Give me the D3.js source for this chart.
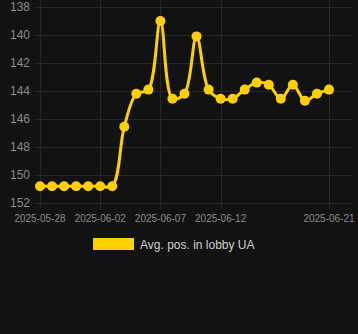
<!DOCTYPE html>
<html>
<head>
<meta charset="utf-8">
<script src="https://cdn.jsdelivr.net/npm/d3@7"></script>
<style>
  html, body { margin: 0; padding: 0; background: #121212; }
  svg { display: block; }
</style>
</head>
<body>
<svg width="358" height="334"></svg>
<script>
// data
var dates = ["2025-05-28","2025-05-29","2025-05-30","2025-05-31","2025-06-01","2025-06-02","2025-06-03",
             "2025-06-04","2025-06-05","2025-06-06","2025-06-07","2025-06-08","2025-06-09","2025-06-10",
             "2025-06-11","2025-06-12","2025-06-13","2025-06-14","2025-06-15","2025-06-16","2025-06-17",
             "2025-06-18","2025-06-19","2025-06-20","2025-06-21"];
var positions = [150.8,150.8,150.8,150.8,150.8,150.8,150.8,
                 146.55,144.2,143.9,139.0,144.55,144.2,140.1,
                 143.9,144.55,144.55,143.9,143.4,143.55,144.55,
                 143.55,144.7,144.2,143.9];
var yTicks = [138,140,142,144,146,148,150,152];
var xTickLabels = ["2025-05-28","2025-06-02","2025-06-07","2025-06-12","2025-06-21"];
var seriesName = "Avg. pos. in lobby UA";

var svg = d3.select("svg"),
    width = +svg.attr("width"),
    height = +svg.attr("height");

var parse = d3.utcParse("%Y-%m-%d");
var data = dates.map(function(d, i) { return { date: parse(d), value: positions[i] }; });

var lineColor = "#ffd000",
    gridColor = "#272727",
    textColor = "#8a8a8a";

var x = d3.scaleUtc()
    .domain([parse("2025-05-28"), parse("2025-06-21")])
    .range([40, 329]);

var y = d3.scaleLinear()
    .domain([138, 152])
    .range([7, 203]);

// grid
svg.append("g").selectAll("line")
    .data(yTicks).enter().append("line")
    .attr("x1", 34).attr("x2", 352)
    .attr("y1", function(d) { return y(d) + 0.5; })
    .attr("y2", function(d) { return y(d) + 0.5; })
    .attr("stroke", gridColor);

svg.append("g").selectAll("line")
    .data(xTickLabels).enter().append("line")
    .attr("x1", function(d) { return Math.round(x(parse(d))) + 0.5; })
    .attr("x2", function(d) { return Math.round(x(parse(d))) + 0.5; })
    .attr("y1", 0).attr("y2", 209)
    .attr("stroke", gridColor);

// y labels
svg.append("g").selectAll("text")
    .data(yTicks).enter().append("text")
    .attr("x", 30)
    .attr("y", function(d) { return y(d); })
    .attr("dy", "0.35em")
    .attr("text-anchor", "end")
    .attr("fill", textColor)
    .attr("font-family", "Liberation Sans, Arial, sans-serif")
    .attr("font-size", 12)
    .text(function(d) { return d; });

// x labels
svg.append("g").selectAll("text")
    .data(xTickLabels).enter().append("text")
    .attr("x", function(d) { return x(parse(d)); })
    .attr("y", 222)
    .attr("text-anchor", "middle")
    .attr("fill", textColor)
    .attr("font-family", "Liberation Sans, Arial, sans-serif")
    .attr("font-size", 10)
    .text(function(d) { return d; });

// line
var line = d3.line()
    .x(function(d) { return x(d.date); })
    .y(function(d) { return y(d.value); })
    .curve(d3.curveCatmullRom.alpha(0.5));

svg.append("path")
    .datum(data)
    .attr("d", line)
    .attr("fill", "none")
    .attr("stroke", lineColor)
    .attr("stroke-width", 3);

svg.append("g").selectAll("circle")
    .data(data).enter().append("circle")
    .attr("cx", function(d) { return x(d.date); })
    .attr("cy", function(d) { return y(d.value); })
    .attr("r", 5)
    .attr("fill", lineColor);

// legend
svg.append("rect")
    .attr("x", 93).attr("y", 238)
    .attr("width", 41).attr("height", 12)
    .attr("fill", lineColor);

svg.append("text")
    .attr("x", 140).attr("y", 248.5)
    .attr("fill", "#cfcfcf")
    .attr("font-family", "Liberation Sans, Arial, sans-serif")
    .attr("font-size", 12)
    .text(seriesName);
</script>
</body>
</html>
